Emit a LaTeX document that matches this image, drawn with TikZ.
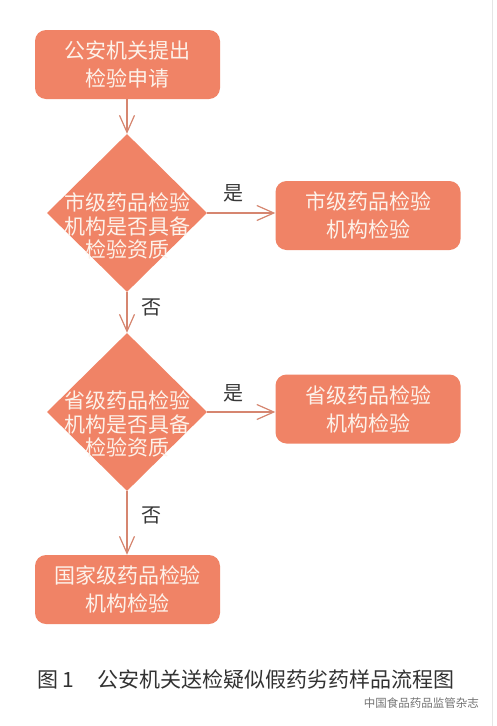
\documentclass[tikz,border=0pt]{standalone}
\usepackage{fontspec}
\newfontfamily\cjk{Noto Sans CJK SC}
\usetikzlibrary{shapes.geometric,arrows.meta}
\definecolor{coral}{RGB}{240,131,102}
\definecolor{boxtext}{RGB}{253,242,234}
\definecolor{arrowc}{RGB}{214,134,112}
\definecolor{labc}{RGB}{55,55,55}
\definecolor{capc}{RGB}{50,50,50}
\begin{document}
\begin{tikzpicture}[x=1pt,y=-1pt,
  box/.style={rectangle, fill=coral, rounded corners=11pt, minimum width=185pt, minimum height=69pt, inner sep=0pt,
    text=boxtext, font=\cjk\fontsize{21}{28}\selectfont, align=center},
  dia/.style={diamond, fill=coral, minimum width=160pt, minimum height=158pt, inner sep=0pt},
  dtxt/.style={text=boxtext, font=\cjk\fontsize{21}{23.5}\selectfont, align=center, inner sep=0pt},
  arr/.style={draw=arrowc, line width=1.3pt, -{Straight Barb[length=17pt,width=15pt,line width=1.2pt]}},
  lab/.style={text=labc, font=\cjk\fontsize{20}{22}\selectfont, inner sep=0pt},
]
\useasboundingbox (0,0) rectangle (496,726);
\fill[white] (0,0) rectangle (496,726);
\draw[black!10, line width=0.8pt] (492,0) -- (492,726);

\node[box] (b1) at (127.5,64.5) {公安机关提出\\检验申请};
\node[dia] (d1) at (127,213) {};
\node[dtxt] (t1) at (127,226) {市级药品检验\\机构是否具备\\检验资质};
\node[box] (b2) at (368,215.5) {市级药品检验\\机构检验};
\node[dia] (d2) at (127,412) {};
\node[dtxt] (t2) at (127,424) {省级药品检验\\机构是否具备\\检验资质};
\node[box] (b3) at (368,409) {省级药品检验\\机构检验};
\node[box] (b4) at (127.5,589.5) {国家级药品检验\\机构检验};

\draw[arr] (b1.south -| d1.north) -- (d1.north);
\draw[arr] (d1.east) -- (d1.east -| b2.west);
\draw[arr] (d1.south) -- (d2.north);
\draw[arr] (d2.east) -- (d2.east -| b3.west);
\draw[arr] (d2.south) -- (d2.south |- b4.north);

\node[lab] (y1) at (233,193) {是};
\node[lab] (n1) at (151,307) {否};
\node[lab] (y2) at (233,393) {是};
\node[lab] (n2) at (151,515) {否};

\node[anchor=west, text=capc, font=\cjk\fontsize{21}{24}\selectfont, inner sep=0pt] (cap) at (37,679)
  {图 1\hspace{23pt}公安机关送检疑似假药劣药样品流程图};
\node[anchor=east, text=black!55, font=\cjk\fontsize{11.5}{13}\selectfont, inner sep=0pt] (wm) at (479,703)
  {中国食品药品监管杂志};
\end{tikzpicture}
\end{document}
